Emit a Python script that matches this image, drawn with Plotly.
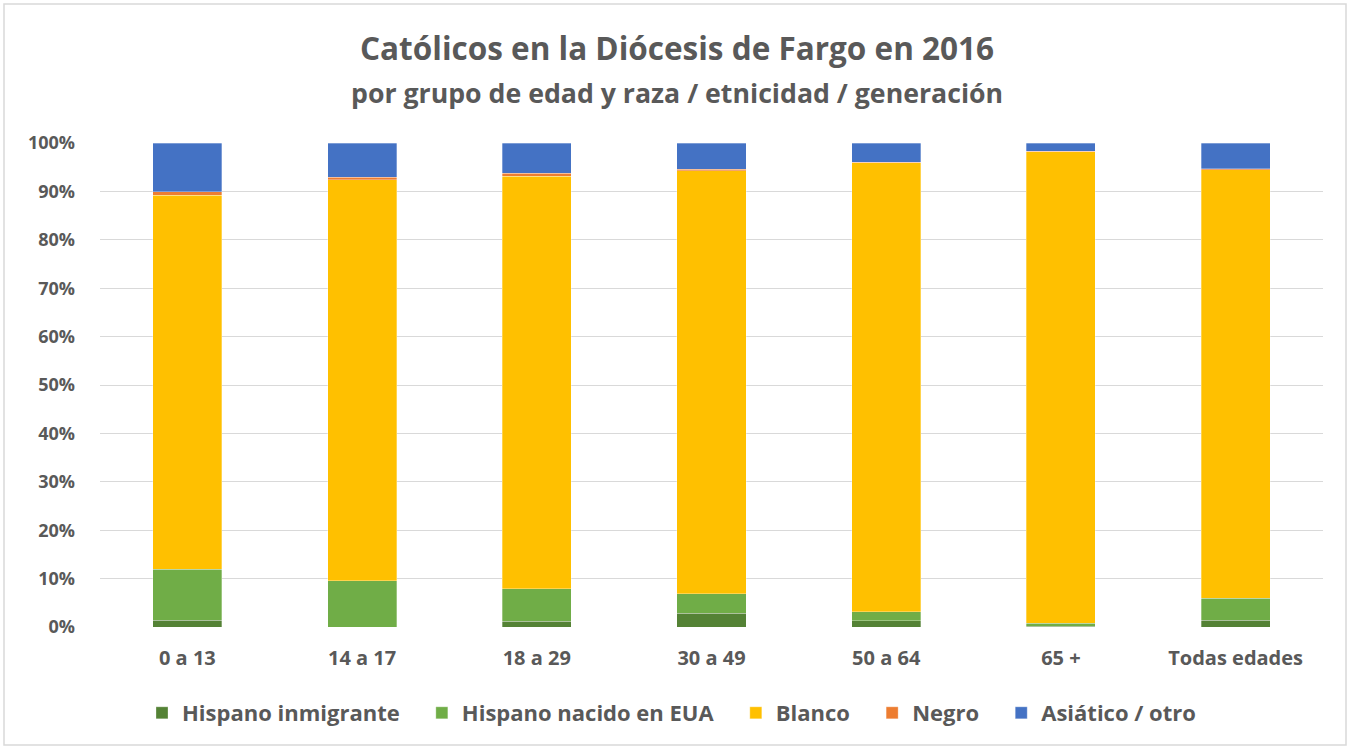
import plotly.graph_objects as go

categories = ["0 a 13", "14 a 17", "18 a 29", "30 a 49", "50 a 64", "65 +", "Todas edades"]
hispano_inmigrante = [1.4, 0.0, 1.2, 2.8, 1.3, 0.2, 1.4]
hispano_nacido = [10.5, 9.6, 6.7, 4.1, 1.9, 0.6, 4.5]
blanco = [77.3, 82.8, 85.2, 87.4, 92.7, 97.4, 88.6]
negro = [0.7, 0.5, 0.6, 0.3, 0.1, 0.1, 0.2]
asiatico = [10.1, 7.1, 6.3, 5.4, 4.0, 1.7, 5.3]

series = [
    ("Hispano inmigrante", hispano_inmigrante, "#548235"),
    ("Hispano nacido en EUA", hispano_nacido, "#70AD47"),
    ("Blanco", blanco, "#FFC000"),
    ("Negro", negro, "#ED7D31"),
    ("Asiático / otro", asiatico, "#4472C4"),
]

FONT = "Open Sans"
GREY = "#595959"
PAD = "\u00a0\u00a0\u00a0"

fig = go.Figure()
for name, vals, color in series:
    fig.add_trace(go.Bar(
        x=categories, y=[v / 100 for v in vals], name=name + PAD,
        marker=dict(color=color, line=dict(color="rgba(255,255,255,0.5)", width=0.6)),
        hovertemplate="%{x}: %{y:.1%}<extra>" + name + "</extra>",
    ))

W, H = 1351, 749
L, R, T, B = 100, 28, 143, 122
pw, ph = W - L - R, H - T - B

def px_x(p):
    return (p - L) / pw

def px_y(p):
    return (H - B - p) / ph

fig.update_layout(
    width=W, height=H,
    barmode="stack", bargap=0.605,
    margin=dict(l=L, r=R, t=T, b=B),
    paper_bgcolor="white", plot_bgcolor="white",
    font=dict(family=FONT, color=GREY),
    showlegend=True,
    legend=dict(orientation="h", x=px_x(680), xanchor="center", y=px_y(713), yanchor="middle",
                font=dict(size=22, family=FONT, color=GREY, weight="bold"),
                traceorder="normal", itemwidth=30),
    xaxis=dict(showgrid=False, showline=False, ticks="",
               tickfont=dict(size=20, family=FONT, color=GREY, weight="bold"),
               ticklabelstandoff=17),
    yaxis=dict(range=[0, 1], tickformat=".0%", dtick=0.1, showgrid=True,
               gridcolor="#D9D9D9", gridwidth=1.3, zeroline=False, showline=False,
               tickfont=dict(size=18, family=FONT, color=GREY, weight="bold"),
               ticklabelstandoff=24),
    annotations=[
        dict(text="Católicos en la Diócesis de Fargo en 2016", xref="paper", yref="paper",
             x=px_x(677), y=px_y(48), xanchor="center", yanchor="middle", showarrow=False,
             font=dict(size=31.5, family=FONT, color=GREY, weight="bold")),
        dict(text="por grupo de edad y raza / etnicidad / generación", xref="paper", yref="paper",
             x=px_x(677), y=px_y(92), xanchor="center", yanchor="middle", showarrow=False,
             font=dict(size=26.7, family=FONT, color=GREY, weight="bold")),
    ],
    shapes=[dict(type="rect", xref="paper", yref="paper",
                 x0=px_x(4), x1=px_x(1346), y0=px_y(745), y1=px_y(4),
                 line=dict(color="#D9D9D9", width=1.5), fillcolor="rgba(0,0,0,0)", layer="below")],
)

fig.write_html("out.html")
